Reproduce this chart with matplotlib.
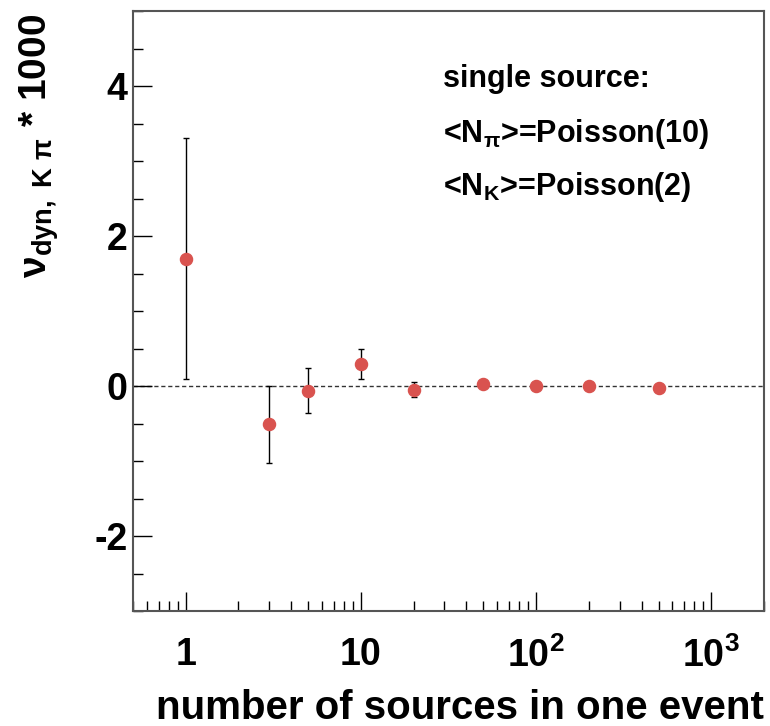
import matplotlib
matplotlib.use("Agg")
import matplotlib.pyplot as plt
from matplotlib.ticker import LogLocator, MultipleLocator, FixedLocator, FixedFormatter

# === DATA ===
n_sources = [1, 3, 5, 10, 20, 50, 100, 200, 500]
nu_dyn = [1.70, -0.51, -0.06, 0.29, -0.05, 0.03, 0.0, 0.0, -0.02]
nu_err = [1.61, 0.51, 0.30, 0.20, 0.10, 0.03, 0.01, 0.01, 0.01]

x_ticks = [1, 10, 100, 1000]
x_tick_labels = ["1", "10", r"$\mathbf{10^{2}}$", r"$\mathbf{10^{3}}$"]
y_ticks = [-2, 0, 2, 4]

# === STYLE ===
plt.rcParams['font.family'] = ['Liberation Sans', 'DejaVu Sans']
plt.rcParams['font.weight'] = 'bold'
plt.rcParams['axes.unicode_minus'] = False
plt.rcParams['mathtext.fontset'] = 'custom'
plt.rcParams['mathtext.rm'] = 'Liberation Sans:bold'
plt.rcParams['mathtext.bf'] = 'Liberation Sans:bold'
plt.rcParams['mathtext.it'] = 'Liberation Sans:bold'
plt.rcParams['mathtext.default'] = 'bf'

FRAME = '#555555'
RED = '#d9534f'

fig = plt.figure(figsize=(7.7, 7.26), dpi=100)
ax = fig.add_axes([133 / 770, 1 - 611 / 726, 631 / 770, 600 / 726])

ax.set_xscale('log')
ax.set_xlim(0.5, 2000)
ax.set_ylim(-3, 5)

# zero line
ax.axhline(0, color='#333333', lw=1.0, ls=(0, (3, 2)), zorder=1)

ax.errorbar(n_sources, nu_dyn, yerr=nu_err, fmt='o', color=RED,
            ms=8.7, ecolor='black', elinewidth=1.0, capsize=2.2,
            capthick=1.0, zorder=3)

# ticks
ax.xaxis.set_major_locator(FixedLocator(x_ticks))
ax.xaxis.set_major_formatter(FixedFormatter(x_tick_labels))
ax.xaxis.set_minor_locator(LogLocator(base=10, subs=range(2, 10), numticks=20))
ax.xaxis.set_minor_formatter(plt.NullFormatter())
ax.yaxis.set_major_locator(FixedLocator(y_ticks))
ax.yaxis.set_minor_locator(MultipleLocator(0.5))

ax.tick_params(which='both', direction='in', top=False, right=False,
               color='black', width=1.0)
ax.tick_params(which='major', length=13.5, labelsize=27)
ax.tick_params(which='minor', length=7.2)
ax.tick_params(axis='x', which='major', pad=19)
ax.tick_params(axis='y', which='major', pad=4)

for s in ax.spines.values():
    s.set_color(FRAME)
    s.set_linewidth(1.5)

ax.set_xlabel("number of sources in one event", fontsize=29,
              fontweight='bold', loc='right')
ax.xaxis.set_label_coords(1.0, -0.13)

ax.set_ylabel(r"$\nu_{dyn,\ K\ \pi}$ * 1000", fontsize=28,
              fontweight='bold', loc='top')
ax.yaxis.set_label_coords(-0.114, 0.995)

# annotation text
ax.text(0.492, 0.887, "single source:", transform=ax.transAxes,
        fontsize=22, fontweight='bold', va='center')
ax.text(0.492, 0.795, r"<N$_{\pi}$>=Poisson(10)", transform=ax.transAxes,
        fontsize=22, fontweight='bold', va='center')
ax.text(0.492, 0.707, r"<N$_{K}$>=Poisson(2)", transform=ax.transAxes,
        fontsize=22, fontweight='bold', va='center')

fig.savefig("out.png", dpi=100)
